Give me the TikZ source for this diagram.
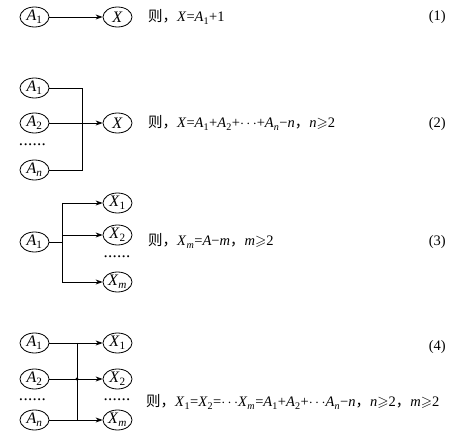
\documentclass[tikz,border=0pt]{standalone}
\usepackage{amssymb}
\usepackage{fontspec}
\setmainfont{Liberation Serif}
\newfontfamily\cjk{Noto Sans CJK SC}
\usetikzlibrary{shapes.geometric,arrows.meta}
\newcommand\vi[1]{\textit{#1}}
\newcommand\sbs[1]{\textsubscript{#1}}
\newcommand\cz{{\cjk 则}}
\newcommand\cm{{\cjk ，}}
\newcommand\sixdots{\hbox to 27pt{.\hfil.\hfil.\hfil.\hfil.\hfil.}}
\begin{document}
\begin{tikzpicture}[x=1pt,y=-1pt,
  every node/.style={font=\fontsize{14.5}{17}\selectfont},
  var/.style={draw,ellipse,minimum width=29pt,minimum height=20pt,inner sep=0pt,line width=0.8pt,font=\fontsize{16}{18}\selectfont},
  conn/.style={line width=0.8pt},
  arr/.style={conn,-{Stealth[length=7pt,width=5pt]}},
  eqtext/.style={anchor=west,inner sep=0pt},
  eqnum/.style={anchor=east,inner sep=0pt},
  dotsrow/.style={inner sep=0pt,font=\fontsize{17}{18}\selectfont}]
\useasboundingbox (0,0) rectangle (469,446);
% (1)
\node[var] (a1) at (34.5,17) {\vi{A}\sbs{1}};
\node[var] (x1) at (117.5,17) {\vi{X}};
\draw[arr] (a1) -- (x1);
\node[eqtext] (t1) at (148,17) {\cz\cm\vi{X}=\vi{A}\sbs{1}+1};
\node[eqnum] (n1) at (446,17) {(1)};
% (2)
\node[var] (b1) at (34.5,88) {\vi{A}\sbs{1}};
\node[var] (b2) at (34.5,123) {\vi{A}\sbs{2}};
\node[dotsrow] (bd) at (32.5,145) {\sixdots};
\node[var] (bn) at (34.5,170) {\vi{A}\sbs{\vi{n}}};
\node[var] (x2) at (117.5,123) {\vi{X}};
\coordinate (bt) at (82,88);
\coordinate (bb) at (82,170);
\draw[conn] (b1.east) -- (bt) -- (bb) -- (bn.east);
\draw[arr] (b2) -- (x2);
\node[eqtext] (t2) at (148,123) {\cz\cm\vi{X}=\vi{A}\sbs{1}+\vi{A}\sbs{2}+$\cdots$+\vi{A}\sbs{\vi{n}}−\vi{n}\cm\vi{n}$\geqslant$2};
\node[eqnum] (n2) at (446,124) {(2)};
% (3)
\node[var] (c1) at (34.5,242) {\vi{A}\sbs{1}};
\node[var] (y1) at (117.5,203) {\vi{X}\sbs{1}};
\node[var] (y2) at (117.5,235) {\vi{X}\sbs{2}};
\node[dotsrow] (yd) at (117,257) {\sixdots};
\node[var] (ym) at (117.5,282) {\vi{X}\sbs{\vi{m}}};
\coordinate (cj) at (62,242);
\coordinate (ct) at (62,203);
\coordinate (cb) at (62,282);
\coordinate (cm) at (62,235);
\draw[conn] (c1.east) -- (cj);
\draw[conn] (ct) -- (cb);
\draw[arr] (ct) -- (y1);
\draw[arr] (cm) -- (y2);
\draw[arr] (cb) -- (ym);
\node[eqtext] (t3) at (148,241) {\cz\cm\vi{X}\sbs{\vi{m}}=\vi{A}−\vi{m}\cm\vi{m}$\geqslant$2};
\node[eqnum] (n3) at (446,242) {(3)};
% (4)
\node[var] (d1) at (34.5,343) {\vi{A}\sbs{1}};
\node[var] (d2) at (34.5,379) {\vi{A}\sbs{2}};
\node[dotsrow] (dd) at (32.5,400) {\sixdots};
\node[var] (dn) at (34.5,420) {\vi{A}\sbs{\vi{n}}};
\node[var] (z1) at (117.5,343) {\vi{X}\sbs{1}};
\node[var] (z2) at (117.5,379) {\vi{X}\sbs{2}};
\node[dotsrow] (zd) at (117,400) {\sixdots};
\node[var] (zm) at (117.5,420) {\vi{X}\sbs{\vi{m}}};
\coordinate (dt) at (77,343);
\coordinate (dj) at (77,379);
\coordinate (db) at (77,420);
\draw[conn] (dt) -- (db);
\draw[arr] (d1) -- (z1);
\draw[arr] (d2) -- (z2);
\draw[arr] (dn) -- (zm);
\fill (dj) circle (1.6pt);
\node[eqtext] (t4) at (146,402) {\cz\cm\vi{X}\sbs{1}=\vi{X}\sbs{2}=$\cdots$\vi{X}\sbs{\vi{m}}=\vi{A}\sbs{1}+\vi{A}\sbs{2}+$\cdots$\vi{A}\sbs{\vi{n}}−\vi{n}\cm\vi{n}$\geqslant$2\cm\vi{m}$\geqslant$2};
\node[eqnum] (n4) at (446,347) {(4)};
\end{tikzpicture}
\end{document}
